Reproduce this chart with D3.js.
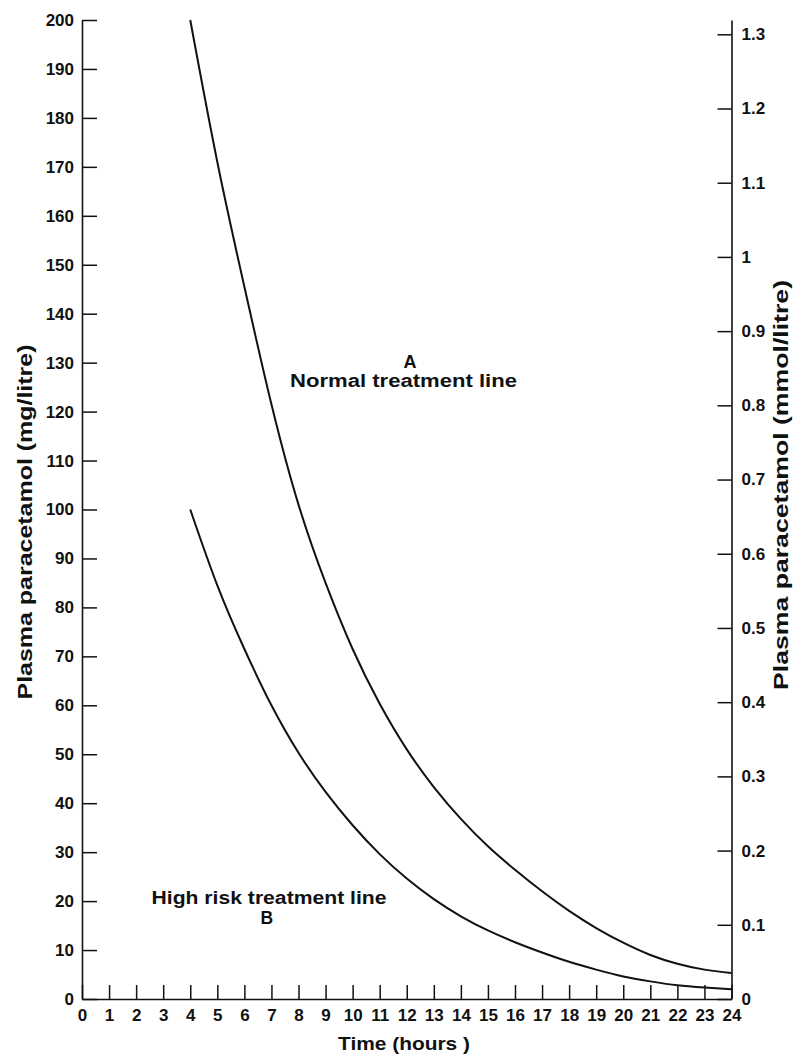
<!DOCTYPE html>
<html>
<head>
<meta charset="utf-8">
<script src="https://cdn.jsdelivr.net/npm/d3@7/dist/d3.min.js"></script>
<style>
  html, body { margin: 0; padding: 0; background: #fff; }
  svg { display: block; }
  text { font-family: "Liberation Sans", Arial, "DejaVu Sans", sans-serif; font-weight: bold; fill: #111; }
</style>
</head>
<body>
<svg id="chart" width="795" height="1055"></svg>
<script>
// ---- data ----
const hourTicks = [0,1,2,3,4,5,6,7,8,9,10,11,12,13,14,15,16,17,18,19,20,21,22,23,24];
const mgTicks = [0,10,20,30,40,50,60,70,80,90,100,110,120,130,140,150,160,170,180,190,200];
const mmolTicks = [0,0.1,0.2,0.3,0.4,0.5,0.6,0.7,0.8,0.9,1,1.1,1.2,1.3];
const curveHours = [4,5,6,7,8,9,10,11,12,13,14,15,16,17,18,19,20,21,22,23,24];
const normalLine = [200,171,145.5,121.5,101,85,71.5,60.3,51,43.3,36.8,31.2,26.4,22.0,18.0,14.5,11.5,9.0,7.2,6.0,5.3];
const highRiskLine = [100,84.5,71.5,60,50.3,42.3,35.5,29.6,24.6,20.4,16.9,14.0,11.6,9.5,7.6,6.0,4.6,3.6,2.8,2.35,2.0];
const mgPerMmol = 151.6;

const svg = d3.select("#chart");
const x = d3.scaleLinear().domain([0, 24]).range([82, 731.5]);
const y = d3.scaleLinear().domain([0, 200]).range([999, 20]);
const yR = d3.scaleLinear().domain([0, 200 / mgPerMmol]).range([999, 20]);

function styleAxis(g) {
  g.selectAll("path.domain").attr("stroke", "#111").attr("stroke-width", 1.6);
  g.selectAll(".tick line").attr("stroke", "#111").attr("stroke-width", 1.5);
  g.selectAll(".tick text").style("font-size", "17px")
    .style("font-family", "Liberation Sans, Arial, sans-serif").style("font-weight", "bold").attr("fill", "#111");
}

// left axis
svg.append("g").attr("transform", `translate(${x(0)},0)`)
  .call(d3.axisLeft(y).tickValues(mgTicks).tickFormat(d3.format("d")).tickSizeInner(-15).tickSizeOuter(0).tickPadding(8))
  .call(styleAxis);

// right axis
svg.append("g").attr("transform", `translate(${x(24)},0)`)
  .call(d3.axisRight(yR).tickValues(mmolTicks).tickFormat(d => String(+d.toFixed(1))).tickSizeInner(-14).tickSizeOuter(0).tickPadding(10))
  .call(styleAxis);

// bottom axis
svg.append("g").attr("transform", `translate(0,${y(0)})`)
  .call(d3.axisBottom(x).tickValues(hourTicks).tickFormat(d3.format("d")).tickSizeInner(-14).tickSizeOuter(0).tickPadding(10))
  .call(styleAxis);

// curves
const line = d3.line().x((d, i) => x(curveHours[i])).y(d => y(d)).curve(d3.curveNatural);
svg.append("path").datum(normalLine).attr("d", line)
  .attr("fill", "none").attr("stroke", "#111").attr("stroke-width", 2);
svg.append("path").datum(highRiskLine).attr("d", line)
  .attr("fill", "none").attr("stroke", "#111").attr("stroke-width", 2);

// labels
function label(txt, cx, by, size, len) {
  const t = svg.append("text").attr("x", cx).attr("y", by).attr("text-anchor", "middle")
    .style("font-size", size + "px").text(txt);
  if (len) t.attr("textLength", len).attr("lengthAdjust", "spacingAndGlyphs");
  return t;
}
label("A", 410, 368, 18);
label("Normal treatment line", 403.5, 387, 18, 227);
label("High risk treatment line", 269, 904, 17.5, 235);
label("B", 266.7, 924, 17.5);

// axis titles
label("Time (hours )", 404, 1050, 19, 132);
svg.append("text").attr("transform", "translate(32,522) rotate(-90)").attr("text-anchor", "middle")
  .style("font-size", "20px").attr("textLength", 355).attr("lengthAdjust", "spacingAndGlyphs")
  .text("Plasma paracetamol (mg/litre)");
svg.append("text").attr("transform", "translate(788,485) rotate(-90)").attr("text-anchor", "middle")
  .style("font-size", "20px").attr("textLength", 410).attr("lengthAdjust", "spacingAndGlyphs")
  .text("Plasma paracetamol (mmol/litre)");
</script>
</body>
</html>
